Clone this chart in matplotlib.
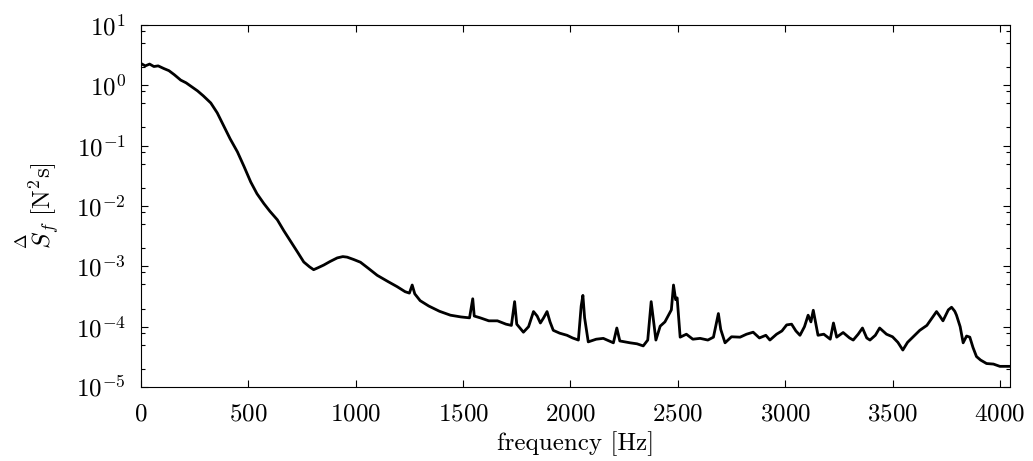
import matplotlib
matplotlib.use("Agg")
import matplotlib.pyplot as plt
from matplotlib.ticker import LogLocator, MultipleLocator, NullFormatter

# spectrum (frequency in Hz, S_f in N^2 s)
freq = [0, 20, 40, 60, 80, 106, 130, 155, 185, 210, 235, 263, 290, 325, 355,
        386, 415, 449, 480, 511, 540, 572, 600, 635, 665, 697, 730, 758, 785,
        804, 825, 851, 880, 914, 940, 960, 990, 1022, 1060, 1100, 1150, 1193,
        1230, 1250, 1263, 1275, 1300, 1340, 1390, 1441, 1490, 1530, 1545, 1552,
        1580, 1620, 1660, 1700, 1725, 1740, 1750, 1781, 1805, 1828, 1845, 1860,
        1875, 1891, 1905, 1920, 1950, 1984, 2010, 2037, 2050, 2058, 2066, 2083,
        2120, 2153, 2180, 2200, 2216, 2230, 2278, 2310, 2339, 2360, 2376, 2390,
        2398, 2418, 2440, 2457, 2470, 2480, 2490, 2497, 2511, 2540, 2570, 2604,
        2640, 2666, 2689, 2700, 2720, 2750, 2790, 2820, 2851, 2880, 2910, 2929,
        2960, 2985, 3007, 3030, 3050, 3069, 3090, 3107, 3120, 3131, 3153, 3180,
        3210, 3225, 3240, 3270, 3300, 3317, 3340, 3360, 3380, 3395, 3420, 3440,
        3472, 3500, 3525, 3548, 3570, 3600, 3627, 3660, 3690, 3705, 3720, 3735,
        3760, 3775, 3790, 3798, 3815, 3829, 3845, 3860, 3875, 3891, 3910, 3938,
        3970, 4000, 4045]
psd = [2.3, 2.1, 2.25, 2.05, 2.1, 1.9, 1.75, 1.5, 1.22, 1.1, 0.95, 0.81, 0.67,
       0.51, 0.35, 0.21, 0.13, 0.079, 0.045, 0.025, 0.016, 0.011, 0.0082,
       0.0059, 0.0039, 0.0026, 0.0017, 0.00118, 0.00098, 0.00088, 0.00095,
       0.00105, 0.0012, 0.00138, 0.00145, 0.00142, 0.0013, 0.00117, 0.00092,
       0.00071, 0.00056, 0.00046, 0.00038, 0.00036, 0.00049, 0.00035, 0.00027,
       0.00022, 0.00018, 1.55e-4, 1.45e-4, 1.4e-4, 2.9e-4, 1.5e-4, 1.4e-4,
       1.25e-4, 1.25e-4, 1.1e-4, 1.05e-4, 2.6e-4, 1.1e-4, 8.1e-5, 1.0e-4,
       1.78e-4, 1.5e-4, 1.15e-4, 1.4e-4, 1.78e-4, 1.2e-4, 8.7e-5, 7.8e-5,
       7.2e-5, 6.5e-5, 6.0e-5, 2.2e-4, 3.3e-4, 1.4e-4, 5.6e-5, 6.2e-5, 6.4e-5,
       5.8e-5, 5.4e-5, 9.5e-5, 5.8e-5, 5.4e-5, 5.2e-5, 4.8e-5, 6.0e-5, 2.6e-4,
       1.0e-4, 6.0e-5, 1.02e-4, 1.2e-4, 1.55e-4, 1.9e-4, 4.9e-4, 2.8e-4,
       3.0e-4, 6.7e-5, 7.5e-5, 6.2e-5, 6.4e-5, 6.0e-5, 6.7e-5, 1.65e-4, 9.0e-5,
       5.4e-5, 6.8e-5, 6.7e-5, 7.5e-5, 8.1e-5, 6.5e-5, 7.2e-5, 6.0e-5, 7.5e-5,
       8.5e-5, 1.07e-4, 1.1e-4, 8.5e-5, 7.2e-5, 1.0e-4, 1.55e-4, 1.2e-4,
       1.87e-4, 7.2e-5, 7.5e-5, 6.2e-5, 1.15e-4, 6.7e-5, 8.0e-5, 6.5e-5,
       6.0e-5, 7.5e-5, 9.5e-5, 6.5e-5, 6.0e-5, 7.2e-5, 9.5e-5, 7.5e-5, 6.8e-5,
       5.5e-5, 4.1e-5, 5.5e-5, 7.0e-5, 8.7e-5, 1.05e-4, 1.5e-4, 1.78e-4,
       1.5e-4, 1.25e-4, 1.9e-4, 2.1e-4, 1.8e-4, 1.55e-4, 1.0e-4, 5.4e-5,
       7.0e-5, 6.7e-5, 4.5e-5, 3.2e-5, 2.8e-5, 2.45e-5, 2.4e-5, 2.2e-5, 2.2e-5]

plt.rcParams["font.family"] = "serif"
plt.rcParams["font.serif"] = ["cmr10"]
plt.rcParams["mathtext.fontset"] = "cm"
plt.rcParams["axes.formatter.use_mathtext"] = True
plt.rcParams["font.size"] = 18

fig = plt.figure(figsize=(10.33, 4.61), dpi=100)
ax = fig.add_axes([0.1365, 0.1605, 0.8412, 0.7853])

ax.semilogy(freq, psd, color="black", linewidth=2.0)

ax.set_xlim(0, 4047)
ax.set_ylim(1e-5, 1e1)
ax.xaxis.set_major_locator(MultipleLocator(500))
ax.yaxis.set_major_locator(LogLocator(base=10, numticks=10))
ax.yaxis.set_minor_locator(LogLocator(base=10, subs=[2, 5, 8], numticks=20))
ax.yaxis.set_minor_formatter(NullFormatter())
ax.tick_params(which="both", direction="in", top=True, right=True)
ax.tick_params(which="major", length=5, width=0.8)
ax.tick_params(which="minor", length=3, width=0.8)
ax.tick_params(axis="x", pad=12)
ax.tick_params(axis="y", pad=11)

ax.set_xlabel("frequency [Hz]", labelpad=4)
ax.set_ylabel(r"$\overset{\Delta}{S}_f\ [\mathrm{N}^2\mathrm{s}]$", labelpad=10)

fig.savefig("out.png", dpi=100)
